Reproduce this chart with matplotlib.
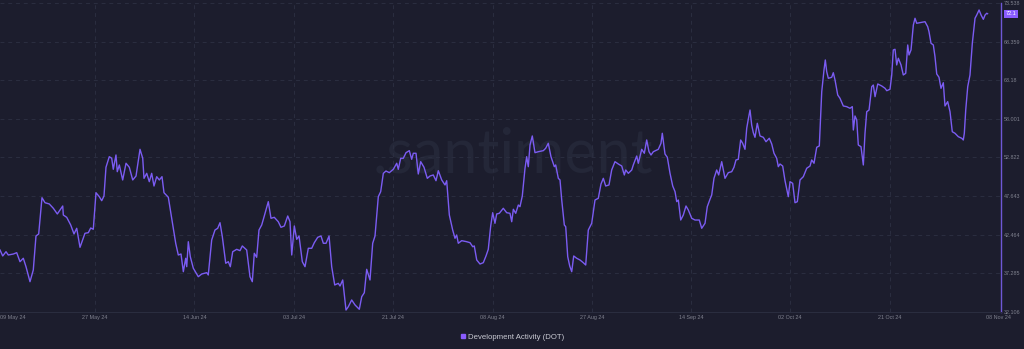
import matplotlib
matplotlib.use("Agg")
import matplotlib.pyplot as plt
from matplotlib.lines import Line2D

# ---- data ----
# days after 09 May 2024
day_offset = [
    0.41, 0.91, 1.52, 1.94, 2.87, 3.50, 4.11, 4.72, 5.22, 5.96, 6.57, 7.07, 7.57, 8.18, 8.74,
    9.54, 10.28, 11.02, 11.52, 12.02, 12.13, 12.76, 13.50, 14.11, 14.61, 15.22, 16.14, 16.76,
    17.20, 17.68, 18.18, 18.79, 19.24, 19.66, 20.03, 20.64, 21.09, 21.38, 21.88, 22.12, 22.50,
    23.12, 23.74, 24.35, 24.98, 25.59, 26.33, 26.83, 27.07, 27.57, 28.05, 28.49, 28.92, 29.42,
    29.90, 30.40, 30.77, 31.57,
    32.20, 32.94, 33.42, 33.92, 34.35, 34.79, 34.98, 35.27, 35.64, 36.20, 37.12, 37.75, 38.68,
    38.97, 39.60, 40.21, 40.71, 41.14, 41.57, 42.20, 42.68, 43.05, 43.49, 44.23, 44.84, 45.27,
    46.08, 46.69, 47.12, 47.49, 47.93, 48.36, 48.86, 49.34, 50.08, 50.58, 51.19, 51.93, 52.43,
    53.05, 53.68, 54.10, 54.42, 54.90, 55.34, 55.77, 56.38, 56.88, 57.49, 58.12, 58.60, 59.23,
    59.84, 60.27, 60.77, 61.33, 61.82,
    62.38, 63.04, 63.36, 63.86, 64.47, 64.90, 65.52, 66.14, 66.93, 67.38, 67.86, 68.30, 68.91,
    69.41, 69.84, 70.45, 70.89, 71.38, 71.87, 72.49, 73.23, 73.86, 74.15, 74.60, 75.08, 75.58,
    76.19, 76.63, 76.93, 77.43, 77.85, 78.30, 78.91, 79.52, 80.02, 80.63, 81.13, 81.56, 82.19,
    82.80, 83.11, 83.60, 84.22, 84.65, 84.96, 85.26, 85.89, 86.82, 87.43, 87.93, 88.22, 88.67,
    89.28, 89.89, 90.39, 90.81, 91.26, 91.63, 92.05, 92.37, 92.85,
    93.59, 94.22, 94.83, 95.15, 95.45, 95.89, 96.37, 96.68, 97.11, 97.61, 97.92, 98.22, 98.54,
    98.96, 99.46, 100.07, 101.00, 101.44, 101.92, 102.42, 103.04, 103.29, 103.78, 104.09,
    104.41, 104.89, 105.15, 105.52, 105.89, 106.26, 106.63, 107.18, 107.79, 108.40, 108.85,
    109.33, 109.96, 110.57, 111.18, 111.68, 112.11, 112.55, 113.16, 113.66, 114.27, 114.89,
    115.52, 116.00, 116.26, 116.74, 117.37, 117.66, 118.29, 118.59, 119.22, 119.70, 120.14,
    120.57, 120.94, 121.37, 122.29, 122.79, 123.03,
    123.53, 123.96, 124.46, 124.96, 125.39, 125.70, 126.00, 126.44, 126.92, 127.42, 127.85,
    128.48, 129.08, 129.88, 130.33, 130.94, 131.36, 131.86, 132.18, 132.60, 133.10, 133.47,
    134.03, 134.64, 135.25, 135.88, 136.30, 136.67, 137.10, 137.54, 137.91, 138.34, 138.66,
    138.95, 139.27, 139.58, 139.88, 140.19, 140.62, 141.12, 141.73, 142.23, 142.84, 143.29,
    143.71, 144.21, 144.51, 144.82, 145.32, 145.75, 146.36, 146.68, 147.17, 147.60, 148.03,
    148.53, 149.14, 149.77, 150.38, 150.69, 151.12, 151.62, 152.10, 152.55, 152.97, 153.21,
    153.47, 153.77, 154.40, 154.69, 155.01, 155.51, 155.93, 156.54, 157.17, 157.78, 158.21,
    158.40, 158.71, 159.03, 159.32, 159.82, 160.25, 160.56, 160.88, 161.31, 161.81, 162.10,
    162.42, 162.92, 163.66, 164.27, 164.59, 165.19, 165.51, 165.80, 166.12, 166.43, 166.73,
    167.23, 167.65, 168.10, 168.47, 168.71, 169.08, 169.51, 169.82, 170.13, 170.75, 171.67,
    172.17, 172.41, 172.78, 173.21, 173.52, 173.84, 174.26, 174.63, 175.06, 175.37, 175.87,
    176.30, 176.72, 177.22, 177.84, 178.47, 178.76, 178.95, 179.21, 179.58, 180.00, 180.43,
    180.93, 181.25, 181.68, 182.05, 182.47, 182.79, 183.10, 183.25,
]

dev_activity = [
    40.42, 39.62, 40.19, 39.75, 39.88, 40.06, 38.85, 39.31, 38.18, 36.17, 37.74, 42.30, 42.57,
    47.43, 46.76, 46.59, 46.01, 45.25, 45.78, 46.32, 45.11, 44.80, 43.77, 42.57, 43.33, 40.78,
    42.66, 42.74, 43.37, 43.20, 48.10, 47.57, 47.03, 47.66, 51.51, 52.93, 52.72, 51.24, 53.16,
    50.92, 51.82, 49.81, 52.05, 51.51, 49.81, 50.34, 53.92, 52.72, 50.03, 50.70, 49.58, 50.70,
    49.00, 50.25, 49.81, 50.25, 48.10, 47.49,
    44.67, 41.32, 39.75, 39.88, 37.51, 39.31, 38.18, 41.53, 39.52, 37.97, 36.84, 37.20, 37.38,
    37.07, 41.76, 43.10, 43.33, 44.08, 42.20, 38.64, 38.85, 38.18, 40.19, 40.51, 40.33, 40.96,
    40.42, 36.84, 36.17, 39.98, 39.44, 43.10, 43.77, 44.98, 46.90, 44.67, 44.80, 44.21, 43.46,
    43.64, 44.98, 44.21, 39.75, 43.64, 41.85, 42.30, 38.85, 38.18, 40.65, 40.65, 41.40, 42.12,
    42.30, 41.32, 41.32, 42.30, 38.18,
    35.73, 35.95, 35.59, 36.40, 32.37, 32.82, 33.72, 33.05, 32.47, 34.16, 34.69, 37.83, 36.40,
    41.32, 42.30, 47.57, 48.24, 50.70, 51.01, 50.79, 51.24, 52.05, 51.24, 52.72, 52.72, 53.47,
    53.74, 52.58, 53.39, 53.39, 50.61, 52.26, 51.51, 50.03, 50.34, 50.48, 49.71, 51.05, 49.81,
    49.14, 49.71, 45.11, 43.10, 41.99, 42.43, 41.32, 41.67, 41.53, 41.40, 40.86, 40.96, 39.08,
    38.54, 38.72, 39.62, 40.51, 43.64, 45.42, 44.00, 45.25, 45.34,
    46.01, 45.42, 45.34, 44.21, 45.88, 45.34, 46.45, 46.23, 47.66, 51.38, 52.93, 51.59, 54.50,
    55.71, 53.47, 53.60, 53.74, 54.06, 54.73, 52.93, 51.59, 51.82, 50.03, 49.81,
    47.12, 43.77, 43.54, 39.52, 38.27, 37.51, 39.62, 39.31, 39.08, 38.72, 38.41,
    43.10, 44.00, 47.12, 47.35, 49.27, 50.03, 49.00, 49.14, 51.15, 52.26, 51.95,
    51.68, 50.48, 51.15, 50.70, 51.15, 51.82, 53.02, 52.05, 53.92, 53.39, 55.17,
    53.60, 53.16, 53.60, 53.92, 54.73, 56.07,
    53.29, 52.85, 50.70, 49.00, 48.24, 46.90, 47.12, 44.44, 45.11, 46.32, 45.78,
    44.67, 44.44, 44.44, 43.33, 44.00, 46.23, 47.22, 47.80, 50.03, 51.15, 50.48,
    52.26, 50.03, 50.79, 50.92, 51.51, 52.49, 52.58, 55.17, 54.73, 53.92, 56.74,
    57.95, 59.19, 57.18, 56.15, 55.53, 57.41, 55.71, 55.53, 54.94, 55.40, 54.63,
    53.39, 52.72, 51.59, 51.95, 51.68, 49.71, 47.57, 49.58, 49.36, 46.76, 46.90,
    49.81, 50.25, 51.38, 51.68, 52.49, 52.05, 54.19, 54.37, 61.65, 64.56, 65.90,
    64.33, 63.44, 63.58, 64.19, 63.22, 61.20, 60.76, 59.73, 59.64, 59.42, 59.64,
    56.51, 58.39, 57.85, 54.50, 54.27, 51.82, 56.07, 58.96, 59.19, 62.32, 62.54,
    60.98, 62.68, 62.41, 62.10, 61.78, 61.97, 63.89, 67.24, 67.33, 65.23, 66.13,
    65.23, 63.89, 64.11, 67.91, 66.57, 67.24, 70.59, 71.49, 70.82, 70.90, 71.03,
    70.36, 69.69, 68.14, 67.91, 66.34, 64.02, 63.58, 62.10, 62.85, 59.73, 60.31,
    58.96, 56.28, 56.07, 55.61, 55.40, 55.17, 56.07, 59.19, 62.32, 63.89, 68.14,
    71.49, 71.93, 72.60, 71.93, 71.35, 71.93, 72.16, 72.10,
]

y_ticks = [32.106, 37.285, 42.464, 47.643, 52.822, 58.001, 63.18, 68.359, 73.538]
y_tick_labels = ["32.106", "37.285", "42.464", "47.643", "52.822", "58.001", "63.18", "68.359", "73.538"]

x_tick_days = [18.0, 36.4, 54.8, 73.2, 91.6, 110.0, 128.3, 146.7, 165.1]
x_tick_labels = ["27 May 24", "14 Jun 24", "03 Jul 24", "21 Jul 24", "08 Aug 24",
                 "27 Aug 24", "14 Sep 24", "02 Oct 24", "21 Oct 24"]
first_label = "09 May 24"
last_label = "08 Nov 24"
last_value_label = "72.1"
series_name = "Development Activity (DOT)"

# ---- style ----
BG = "#1c1d2d"
GRID = "#2b2e40"
LINE = "#7b5cf2"
TICK = "#80828f"
BADGE = "#8a5cff"

plt.rcParams["font.family"] = ["Liberation Sans", "DejaVu Sans"]

fig = plt.figure(figsize=(10.24, 3.49), dpi=100, facecolor=BG)
ax = fig.add_axes([0.0, 1 - 312 / 349, 1001 / 1024, 309 / 349])
ax.set_facecolor(BG)

# watermark
ax.text(0.5125, 0.453, ".santiment", transform=ax.transAxes, ha="center", va="baseline",
        fontsize=44, color="#242738", zorder=0, fontfamily="Lato")

ax.plot(day_offset, dev_activity, color=LINE, lw=1.0, zorder=3)

ax.set_xlim(0.407, 185.74)
ax.set_ylim(y_ticks[0], y_ticks[-1])

ax.set_yticks(y_ticks)
ax.set_yticklabels(y_tick_labels)
ax.yaxis.tick_right()
ax.tick_params(axis="y", length=0, pad=2.2, labelsize=3.9, labelcolor=TICK)

ax.set_xticks(x_tick_days)
ax.set_xticklabels(x_tick_labels)
ax.tick_params(axis="x", length=0, pad=2.5, labelsize=3.9, labelcolor=TICK)

ax.grid(True, color=GRID, lw=0.7, ls=(0, (4, 4)), zorder=1)

for side in ["top", "left"]:
    ax.spines[side].set_visible(False)
ax.spines["bottom"].set_color(GRID)
ax.spines["bottom"].set_linewidth(0.7)
ax.spines["right"].set_color("#6e58d6")
ax.spines["right"].set_linewidth(1.0)

# edge date labels
ax.annotate(first_label, xy=(0, 0), xycoords="axes fraction", xytext=(0, -2.5),
            textcoords="offset points", ha="left", va="top", fontsize=3.9, color=TICK)
ax.annotate(last_label, xy=(182.96, 0), xycoords=("data", "axes fraction"), xytext=(0, -2.5),
            textcoords="offset points", ha="left", va="top", fontsize=3.9, color=TICK,
            annotation_clip=False)

# last value badge
ax.annotate(last_value_label, xy=(1, dev_activity[-1]), xycoords=("axes fraction", "data"),
            xytext=(3.2, 0), textcoords="offset points", ha="left", va="center",
            fontsize=4.0, color="white", annotation_clip=False,
            bbox=dict(boxstyle="square,pad=0.25", fc=BADGE, ec="none"))

# legend
handle = Line2D([], [], marker="s", ls="none", color=BADGE, markersize=3.3)
fig.legend([handle], [series_name], loc="center", bbox_to_anchor=(0.5, 1 - 337 / 349),
           frameon=False, fontsize=5.6, labelcolor="#c9cad3", handletextpad=0.1,
           handlelength=1.0, borderpad=0)

fig.savefig("out.png", dpi=100, facecolor=BG)
